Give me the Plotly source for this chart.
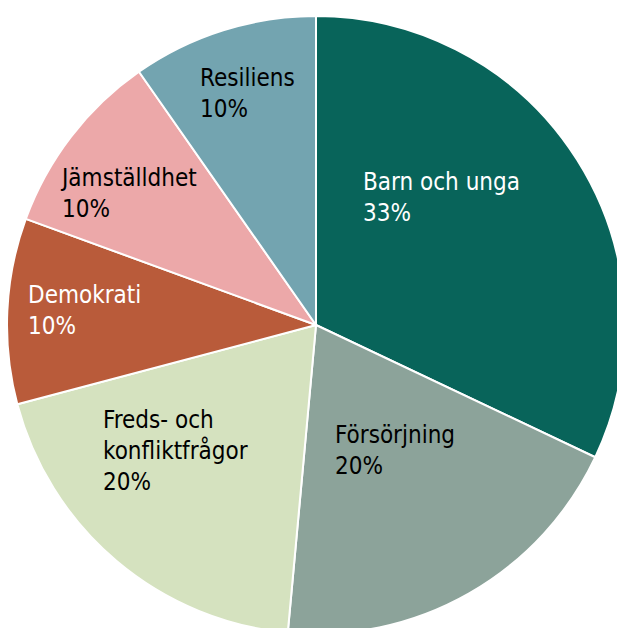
import math
import plotly.graph_objects as go

labels = ["Barn och unga", "Försörjning", "Freds- och<br>konfliktfrågor",
          "Demokrati", "Jämställdhet", "Resiliens"]
values = [33, 20, 20, 10, 10, 10]
pct_labels = ["33%", "20%", "20%", "10%", "10%", "10%"]

colors = ["#08645a", "#8ca39a", "#d5e2bf", "#b95b3a", "#eca8a9", "#73a4b0"]
text_colors = ["white", "black", "black", "white", "black", "black"]
# label placement (style): fraction of radius and angular nudge (deg)
label_r = [0.58, 0.48, 0.61, 0.75, 0.74, 0.78]
label_dtheta = [-13, -2.5, 8, 1, -2.5, 1]

FONT = "DejaVu Sans Condensed, DejaVu Sans, sans-serif"

fig = go.Figure(go.Pie(
    labels=labels,
    values=values,
    sort=False,
    direction="clockwise",
    rotation=0,
    marker=dict(colors=colors, line=dict(color="white", width=2)),
    textinfo="none",
    hoverinfo="label+value",
    showlegend=False,
))

total = sum(values)
cum = 0
annotations = []
for i, v in enumerate(values):
    mid = (cum + v / 2) / total * 360 + label_dtheta[i]
    cum += v
    th = math.radians(mid)
    x = 0.5 + 0.5 * label_r[i] * math.sin(th)
    y = 0.5 + 0.5 * label_r[i] * math.cos(th)
    annotations.append(dict(
        x=x, y=y, xref="paper", yref="paper",
        xanchor="center", yanchor="middle", align="left",
        text=f"{labels[i]}<br>{pct_labels[i]}",
        showarrow=False,
        font=dict(family=FONT, size=24, color=text_colors[i]),
    ))

fig.update_layout(
    width=625, height=634,
    margin=dict(l=7, r=0, t=16, b=0),
    paper_bgcolor="white",
    annotations=annotations,
)

fig.write_html("out.html",
               config={"displayModeBar": False},
               post_script="document.body.style.margin='0';"
                           "document.documentElement.style.overflow='hidden';"
                           "document.body.style.overflow='hidden';")
